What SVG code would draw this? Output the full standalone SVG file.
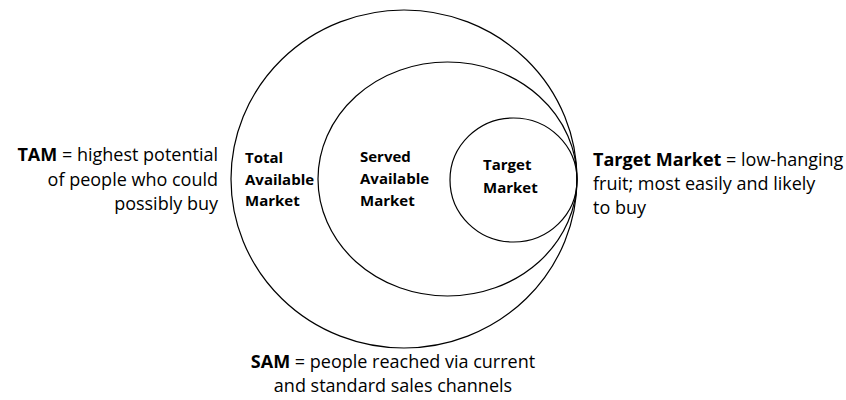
<svg xmlns="http://www.w3.org/2000/svg" width="846" height="400" viewBox="0 0 846 400">
<style>
.c{fill:none;stroke:#000;stroke-width:1.2}
.t{font-family:"Open Sans","Liberation Sans",sans-serif;font-size:18px;fill:#000}
.l{font-family:"Open Sans","Liberation Sans",sans-serif;font-size:15px;font-weight:bold;fill:#000}
.b{font-weight:bold}
</style>
<rect width="846" height="400" fill="#fff"/>
<g id="tam-circle">
<ellipse class="c" cx="404" cy="179" rx="173" ry="169"/>
<text class="l"><tspan x="245" y="163">Total</tspan><tspan x="245" y="185">Available</tspan><tspan x="245" y="206">Market</tspan></text>
</g>
<g id="sam-circle">
<ellipse class="c" cx="447.5" cy="179" rx="129.5" ry="117"/>
<text class="l"><tspan x="360" y="162">Served</tspan><tspan x="360" y="184">Available</tspan><tspan x="360" y="206">Market</tspan></text>
</g>
<g id="target-circle">
<ellipse class="c" cx="513.5" cy="180" rx="63.5" ry="62"/>
<text class="l"><tspan x="483" y="170">Target</tspan><tspan x="483" y="193">Market</tspan></text>
</g>
<g id="tam-note">
<text class="t" text-anchor="end"><tspan x="218" y="161"><tspan class="b">TAM</tspan> = highest potential</tspan><tspan x="218" y="186">of people who could</tspan><tspan x="218" y="210">possibly buy</tspan></text>
</g>
<g id="target-note">
<text class="t"><tspan x="593" y="166"><tspan class="b">Target Market</tspan> = low-hanging</tspan><tspan x="593" y="190">fruit; most easily and likely</tspan><tspan x="593" y="214">to buy</tspan></text>
</g>
<g id="sam-note">
<text class="t" text-anchor="middle"><tspan x="393" y="368"><tspan class="b">SAM</tspan> = people reached via current</tspan><tspan x="393" y="392">and standard sales channels</tspan></text>
</g>
<g id="connectors"></g>
</svg>
